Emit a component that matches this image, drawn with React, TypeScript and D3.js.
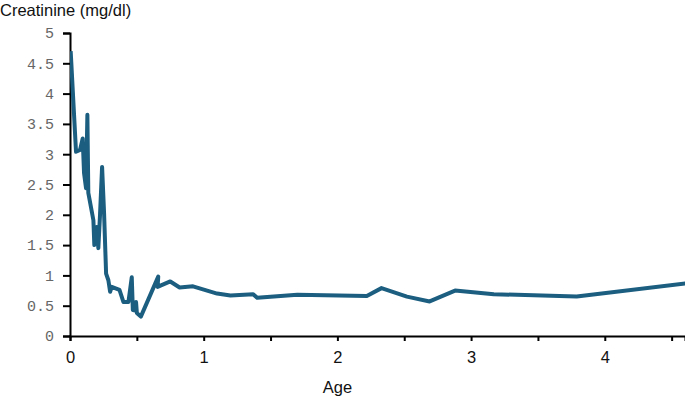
import { useRef, useEffect } from 'react';
import * as d3 from 'd3';

// age (years) vs creatinine (mg/dl)
const ages = [
  0.005, 0.045, 0.075, 0.095, 0.105, 0.12, 0.13, 0.137, 0.175, 0.182, 0.2, 0.212,
  0.225, 0.24, 0.255, 0.27, 0.287, 0.3, 0.312, 0.37, 0.4, 0.437, 0.462, 0.47,
  0.49, 0.494, 0.5, 0.53, 0.66, 0.655, 0.75, 0.82, 0.92, 1.1, 1.2,
  1.37, 1.4, 1.7, 2.22, 2.33, 2.52, 2.69, 2.88, 3.17, 3.79, 4.62,
];
const creatinine = [
  4.7, 3.04, 3.07, 3.26, 2.69, 2.44, 3.65, 2.36, 1.91, 1.5, 1.8, 1.45,
  2.02, 2.79, 2.02, 1.03, 0.92, 0.73, 0.81, 0.76, 0.56, 0.56, 0.97, 0.43,
  0.42, 0.56, 0.38, 0.32, 0.98, 0.81, 0.9, 0.8, 0.82, 0.7, 0.67,
  0.69, 0.63, 0.68, 0.66, 0.79, 0.65, 0.57, 0.75, 0.69, 0.65, 0.87,
];
const yTicks = [0, 0.5, 1, 1.5, 2, 2.5, 3, 3.5, 4, 4.5, 5];
const xTicks = [0, 0.5, 1, 1.5, 2, 2.5, 3, 3.5, 4, 4.5];
const xLabels = [0, 1, 2, 3, 4];

const SANS = "'Liberation Sans', Arial, sans-serif";
const MONO = "'Liberation Mono', 'DejaVu Sans Mono', 'Courier New', monospace";

export default function App() {
  const svgRef = useRef<SVGSVGElement>(null);

  useEffect(() => {
    if (!svgRef.current) return;
    const svg = d3.select(svgRef.current);
    svg.selectAll('*').remove();

    const width = 685;
    const height = 401;
    const margin = { top: 33, right: 0, bottom: 65, left: 70 };

    const x = d3.scaleLinear().domain([0, 4.6]).range([margin.left, width - margin.right]);
    const y = d3.scaleLinear().domain([0, 5]).range([height - margin.bottom, margin.top]);

    // title
    svg.append('text')
      .attr('x', 0)
      .attr('y', 16)
      .style('font-family', SANS)
      .style('font-size', '16.5px')
      .attr('fill', '#111')
      .text('Creatinine (mg/dl)');

    // y axis
    const yAxis = svg.append('g')
      .attr('transform', `translate(${margin.left},0)`)
      .call(d3.axisLeft(y).tickValues(yTicks).tickSize(7).tickPadding(9).tickFormat(d => String(d)));
    yAxis.select('.domain').attr('stroke', '#000').attr('stroke-width', 2);
    yAxis.selectAll('.tick line').attr('stroke', '#000').attr('stroke-width', 2);
    yAxis.selectAll('.tick text')
      .style('font-family', MONO)
      .style('font-size', '15px')
      .attr('fill', '#666');

    // x axis
    const xAxis = svg.append('g')
      .attr('transform', `translate(0,${y(0)})`)
      .call(d3.axisBottom(x).tickValues(xTicks).tickSize(5).tickPadding(10)
        .tickFormat(d => (xLabels.includes(d as number) ? String(d) : '')));
    xAxis.select('.domain').attr('stroke', '#000').attr('stroke-width', 2);
    xAxis.selectAll('.tick line').attr('stroke', '#000').attr('stroke-width', 2);
    xAxis.selectAll('.tick text')
      .style('font-family', SANS)
      .style('font-size', '16.5px')
      .attr('fill', '#111');

    svg.append('text')
      .attr('x', x(2))
      .attr('y', 393)
      .attr('text-anchor', 'middle')
      .style('font-family', SANS)
      .style('font-size', '16.5px')
      .attr('fill', '#111')
      .text('Age');

    const points = ages.map((a, i) => [a, creatinine[i]] as [number, number]);
    const line = d3.line<[number, number]>()
      .x(d => x(d[0]))
      .y(d => y(d[1]));

    svg.append('defs').append('clipPath').attr('id', 'plot-clip')
      .append('rect').attr('x', margin.left).attr('y', 0).attr('width', width).attr('height', height);

    svg.append('path')
      .datum(points)
      .attr('clip-path', 'url(#plot-clip)')
      .attr('fill', 'none')
      .attr('stroke', '#1b5e80')
      .attr('stroke-width', 4)
      .attr('stroke-linejoin', 'round')
      .attr('d', line);
  }, []);

  return (
    <svg
      ref={svgRef}
      width={685}
      height={401}
      style={{ position: 'absolute', left: 0, top: 0, background: '#fff' }}
    />
  );
}
